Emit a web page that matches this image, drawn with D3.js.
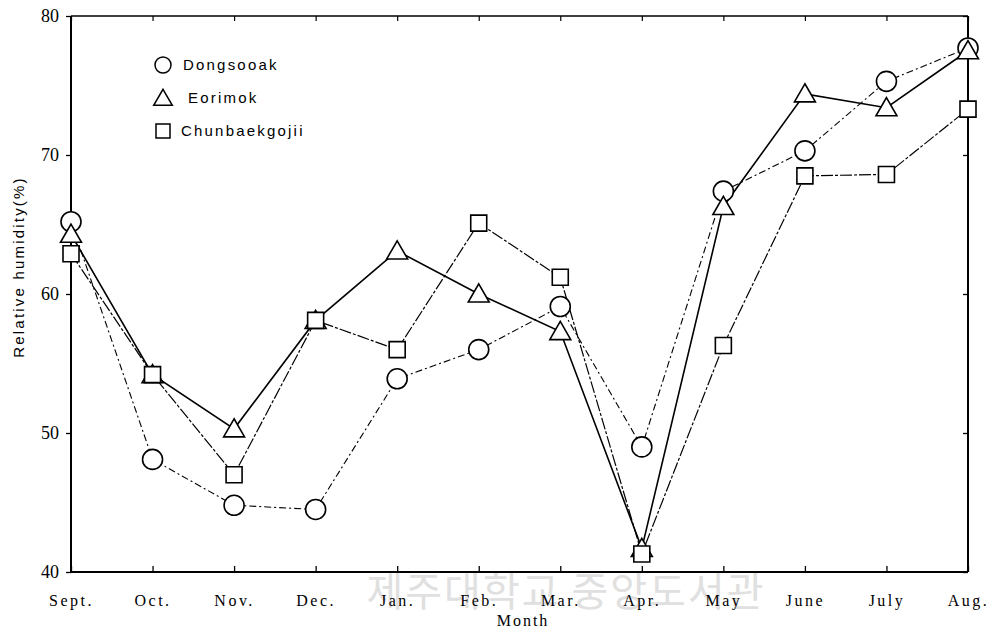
<!DOCTYPE html>
<html><head><meta charset="utf-8">
<script src="https://cdn.jsdelivr.net/npm/d3@7/dist/d3.min.js"></script>
<style>
html,body{margin:0;padding:0;background:#fff;}
svg{display:block;}
</style></head>
<body>
<svg id="chart" width="993" height="632"></svg>
<script>
const months = ["Sept.","Oct.","Nov.","Dec.","Jan.","Feb.","Mar.","Apr.","May","June","July","Aug."];
const dongsooak = [65.2,48.1,44.8,44.5,53.9,56.0,59.1,49.0,67.4,70.3,75.3,77.7];
const eorimok = [64.3,54.2,50.3,58.1,63.1,60.0,57.3,41.7,66.3,74.4,73.4,77.5];
const chunbaekgojii = [62.9,54.2,47.0,58.1,56.0,65.1,61.2,41.3,56.3,68.5,68.6,73.3];
const yTicks = [40,50,60,70,80];
const seriesNames = ["Dongsooak","Eorimok","Chunbaekgojii"];

const svg = d3.select("#chart");
const L = 71, R = 968, T = 16, B = 572;

const x = d3.scalePoint().domain(months).range([L, R]);
const y = d3.scaleLinear().domain([40, 80]).range([B, T]);

// watermark
svg.append("text").attr("x", 566).attr("y", 606).attr("text-anchor","middle")
  .attr("font-family","Noto Sans CJK KR").attr("font-size", 40).attr("fill","#e0e0e0")
  .attr("letter-spacing", 2).text("제주대학교 중앙도서관");

// frame
const g = svg.append("g");
g.append("line").attr("x1",L).attr("x2",R).attr("y1",T).attr("y2",T).attr("stroke","#000").attr("stroke-width",1.6);
g.append("line").attr("x1",L).attr("x2",R).attr("y1",B).attr("y2",B).attr("stroke","#000").attr("stroke-width",2.2);
g.append("line").attr("x1",L).attr("x2",L).attr("y1",T).attr("y2",B).attr("stroke","#000").attr("stroke-width",2);
g.append("line").attr("x1",R).attr("x2",R).attr("y1",T).attr("y2",B).attr("stroke","#000").attr("stroke-width",2);

// bottom axis
const xAxis = d3.axisBottom(x).tickSize(-6).tickPadding(16);
const gx = svg.append("g").attr("transform",`translate(0,${B})`).call(xAxis);
gx.select(".domain").remove();
gx.selectAll(".tick line").attr("stroke","#000").attr("stroke-width",1.3);
gx.selectAll(".tick text").attr("font-family","Liberation Serif").attr("font-size",16)
  .attr("letter-spacing",2.5).attr("fill","#000").attr("dy","1.1em");
// top ticks
const gt = svg.append("g").attr("transform",`translate(0,${T})`).call(d3.axisTop(x).tickSize(-5).tickFormat(""));
gt.select(".domain").remove();
gt.selectAll(".tick line").attr("stroke","#000").attr("stroke-width",1.2);

// left axis
const yAxis = d3.axisLeft(y).tickValues(yTicks).tickSize(5).tickPadding(7);
const gy = svg.append("g").attr("transform",`translate(${L},0)`).call(yAxis);
gy.select(".domain").remove();
gy.selectAll(".tick line").attr("stroke","#000").attr("stroke-width",1.3);
gy.selectAll(".tick text").attr("font-family","Liberation Serif").attr("font-size",18).attr("fill","#000");
// right ticks
const gr = svg.append("g").attr("transform",`translate(${R},0)`).call(d3.axisRight(y).tickValues(yTicks).tickSize(-5).tickFormat(""));
gr.select(".domain").remove();
gr.selectAll(".tick line").attr("stroke","#000").attr("stroke-width",1.3);

// axis titles
svg.append("text").attr("transform","translate(24,267) rotate(-90)").attr("text-anchor","middle")
  .attr("font-family","Liberation Sans").attr("font-size",15).attr("letter-spacing",2.2).text("Relative humidity(%)");
svg.append("text").attr("x",523).attr("y",626).attr("text-anchor","middle")
  .attr("font-family","Liberation Serif").attr("font-size",16).attr("letter-spacing",2).text("Month");

// lines
const line = d3.line().x((d,i)=>x(months[i])).y(d=>y(d));
const styles = [
  {dash:"7,3,2,3", w:1.1},
  {dash:null, w:1.6},
  {dash:"12,2,3,2", w:1.2}
];
const data = [dongsooak, eorimok, chunbaekgojii];
data.forEach((s,k)=>{
  const p = svg.append("path").datum(s).attr("d",line).attr("fill","none")
    .attr("stroke","#000").attr("stroke-width",styles[k].w);
  if (styles[k].dash) p.attr("stroke-dasharray",styles[k].dash);
});

// markers
const symC = d3.symbol().type(d3.symbolCircle).size(Math.PI*10*10);
const symT = d3.symbol().type(d3.symbolTriangle).size(190);
const symS = d3.symbol().type(d3.symbolSquare).size(16*16);
const syms = [symC, symT, symS];
data.forEach((s,k)=>{
  svg.append("g").selectAll("path").data(s).join("path")
    .attr("transform",(d,i)=>`translate(${x(months[i])},${y(d)+(k===1?2:0)})`)
    .attr("d",syms[k]()).attr("fill","#fff").attr("stroke","#000").attr("stroke-width",1.6);
});

// legend
const lg = svg.append("g");
const legY = [65, 98, 131];
seriesNames.forEach((n,k)=>{
  lg.append("path").attr("transform",`translate(163,${legY[k]+(k===1?2:0)})`)
    .attr("d", k===0 ? d3.symbol().type(d3.symbolCircle).size(Math.PI*8*8)() :
               k===1 ? d3.symbol().type(d3.symbolTriangle).size(150)() :
                       d3.symbol().type(d3.symbolSquare).size(14*14)())
    .attr("fill","#fff").attr("stroke","#000").attr("stroke-width",1.5);
  lg.append("text").attr("x", k===1?188:(k===0?183:181)).attr("y",legY[k]+5)
    .attr("font-family","Liberation Sans").attr("font-size",15).attr("letter-spacing",2.2).text(n);
});
</script>
</body></html>
